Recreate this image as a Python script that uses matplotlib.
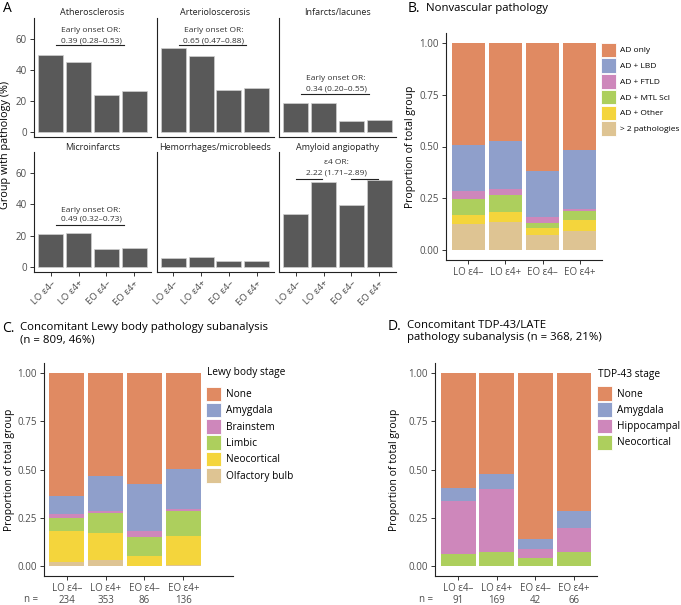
import matplotlib.pyplot as plt
from matplotlib.patches import Patch

plt.rcParams['font.family'] = ['Open Sans', 'DejaVu Sans']

W, H = 681, 605

groups = ['LO ε4–', 'LO ε4+', 'EO ε4–', 'EO ε4+']

# Panel A - % of group with each vascular pathology
vasc_names = ['Atherosclerosis', 'Arterioloscerosis', 'Infarcts/lacunes',
              'Microinfarcts', 'Hemorrhages/microbleeds', 'Amyloid angiopathy']
athero = [49.7, 45.2, 23.9, 26.5]
arterio = [54.0, 49.2, 26.6, 28.2]
infarcts = [18.7, 18.7, 7.1, 7.7]
microinf = [21.2, 21.6, 11.4, 11.8]
hemorr = [5.8, 6.0, 3.6, 3.9]
amyloid = [33.8, 54.4, 39.4, 55.5]
or_head = ['Early onset OR:', 'Early onset OR:', 'Early onset OR:', 'Early onset OR:', None, 'ε4 OR:']
or_text = ['0.39 (0.28–0.53)', '0.65 (0.47–0.88)', '0.34 (0.20–0.55)', '0.49 (0.32–0.73)', None, '2.22 (1.71–2.89)']

# Panel B - nonvascular pathology (legend order, top of stack first)
nonvasc_cats = ['AD only', 'AD + LBD', 'AD + FTLD', 'AD + MTL Scl', 'AD + Other', '> 2 pathologies']
ad_only = [0.495, 0.474, 0.619, 0.515]
ad_lbd = [0.223, 0.231, 0.223, 0.288]
ad_ftld = [0.035, 0.029, 0.029, 0.008]
ad_mtl = [0.081, 0.085, 0.024, 0.044]
ad_other = [0.040, 0.049, 0.034, 0.053]
multi_path = [0.126, 0.132, 0.071, 0.092]

# Panel C - Lewy body stage
lewy_stages = ['None', 'Amygdala', 'Brainstem', 'Limbic', 'Neocortical', 'Olfactory bulb']
lewy_none = [0.639, 0.531, 0.576, 0.497]
lewy_amyg = [0.091, 0.182, 0.242, 0.206]
lewy_brain = [0.021, 0.014, 0.033, 0.013]
lewy_limbic = [0.069, 0.101, 0.097, 0.126]
lewy_neo = [0.159, 0.141, 0.052, 0.149]
lewy_olf = [0.021, 0.031, 0.0, 0.009]
lewy_n = [234, 353, 86, 136]

# Panel D - TDP-43 stage
tdp_stages = ['None', 'Amygdala', 'Hippocampal', 'Neocortical']
tdp_none = [0.596, 0.521, 0.859, 0.715]
tdp_amyg = [0.066, 0.079, 0.050, 0.087]
tdp_hippo = [0.274, 0.328, 0.048, 0.124]
tdp_neo = [0.064, 0.072, 0.043, 0.074]
tdp_n = [91, 169, 42, 66]

palette = ['#E08A62', '#8F9FCB', '#CE87BB', '#ADCF5D', '#F4D53C', '#DEC493']
tick_col = '#4D4D4D'


def rect(x0, y0, x1, y1):
    # pixel box -> figure fraction
    return [x0 / W, 1 - y1 / H, (x1 - x0) / W, (y1 - y0) / H]


def classic(ax):
    ax.spines['top'].set_visible(False)
    ax.spines['right'].set_visible(False)
    for s in ['left', 'bottom']:
        ax.spines[s].set_linewidth(0.8)
        ax.spines[s].set_color('#222222')
    ax.tick_params(length=3, width=0.7, color='#333333', labelcolor=tick_col,
                   labelsize=7, pad=2)


def stacked(ax, layers, colors):
    x = range(1, len(groups) + 1)
    bottom = [0.0] * len(groups)
    for vals, c in zip(layers[::-1], colors[::-1]):
        ax.bar(x, vals, width=0.9, bottom=bottom, color=c, linewidth=0)
        bottom = [b + v for b, v in zip(bottom, vals)]
    ax.set_ylim(-0.05, 1.05)
    ax.set_yticks([0, 0.25, 0.5, 0.75, 1.0])
    ax.set_yticklabels(['0.00', '0.25', '0.50', '0.75', '1.00'])
    ax.set_xticks(list(x))
    classic(ax)
    ax.set_ylabel('Proportion of total group', fontsize=7.5)


def key_legend(handles, labels, x, y, size, hh, hl):
    fig.legend(handles, labels, loc='upper left', bbox_to_anchor=(x / W, 1 - y / H),
               frameon=False, fontsize=size, handlelength=hl, handleheight=hh,
               labelspacing=0.16, handletextpad=0.45, borderaxespad=0, borderpad=0)


fig = plt.figure(figsize=(W / 100, H / 100), dpi=100)

# ---------- Panel A ----------
vasc_vals = [athero, arterio, infarcts, microinf, hemorr, amyloid]
lefts = [34, 156.5, 279]
rows = [(18, 137), (152.5, 272)]
text_y = [(65.2, 58.7, 56), (65.2, 58.7, 56), (34.2, 27.7, 24.5),
          (36.4, 30.7, 26.8), None, (66.8, 60.0, 56.6)]
for i, (name, vals) in enumerate(zip(vasc_names, vasc_vals)):
    r, c = divmod(i, 3)
    ax = fig.add_axes(rect(lefts[c], rows[r][0], lefts[c] + 117, rows[r][1]))
    ax.bar(range(1, 5), vals, width=0.9, color='#595959', edgecolor='#CFCFCF', linewidth=0.5)
    ax.set_xlim(0.4, 4.6)
    ax.set_ylim(-3.5, 73.5)
    classic(ax)
    ax.set_title(name, fontsize=6.5, color='#222222', pad=2)
    ax.set_yticks([0, 20, 40, 60])
    if c > 0:
        ax.tick_params(axis='y', length=0, labelleft=False)
    ax.set_xticks(range(1, 5))
    if r == 0:
        ax.tick_params(axis='x', length=0, labelbottom=False)
    else:
        ax.set_xticklabels(groups, rotation=45, ha='right', va='top',
                           rotation_mode='anchor', fontsize=6.8)
    if or_text[i] is not None:
        y1, y2, yl = text_y[i]
        ax.text(2.45, y1, or_head[i], ha='center', va='center', fontsize=6, color='#333333')
        ax.text(2.45, y2, or_text[i], ha='center', va='center', fontsize=6, color='#333333')
        if i == 5:
            ax.plot([1.0, 1.95], [yl, yl], color='#222222', lw=0.8)
            ax.plot([3.0, 3.95], [yl, yl], color='#222222', lw=0.8)
        else:
            ax.plot([1.2, 3.62], [yl, yl], color='#222222', lw=0.8)

fig.text(6 / W, 1 - 145 / H, 'Group with pathology (%)', rotation=90,
         ha='center', va='center', fontsize=7.8)
fig.text(3 / W, 1 - 8 / H, 'A', fontsize=10, ha='left', va='center')

# ---------- Panel B ----------
axb = fig.add_axes(rect(446, 33, 602, 260))
stacked(axb, [ad_only, ad_lbd, ad_ftld, ad_mtl, ad_other, multi_path], palette)
axb.set_xlim(0.4, 4.6)
axb.set_xticklabels(groups)
axb.yaxis.set_label_coords(-0.19, 0.5)
handles = [Patch(facecolor=col, edgecolor='white', linewidth=0.6) for col in palette]
key_legend(handles, nonvasc_cats, 601, 42.5, 6.0, 2.29, 1.8)
fig.text(408 / W, 1 - 8.5 / H, 'B.', fontsize=10, ha='left', va='center')
fig.text(426 / W, 1 - 9 / H, 'Nonvascular pathology', fontsize=8.2, ha='left', va='center')

# ---------- Panel C ----------
axc = fig.add_axes(rect(43.5, 363, 233, 576))
stacked(axc, [lewy_none, lewy_amyg, lewy_brain, lewy_limbic, lewy_neo, lewy_olf], palette)
axc.set_xlim(0.4, 5.28)
axc.set_xticklabels([f'{g}\n{n}' for g, n in zip(groups, lewy_n)], linespacing=1.15)
axc.yaxis.set_label_coords(-0.15, 0.5)
fig.text(207 / W, 1 - 373 / H, 'Lewy body stage', fontsize=7.3, ha='left', va='center')
key_legend(handles, lewy_stages, 206, 386.5, 7.3, 1.85, 1.5)
fig.text(31.5 / W, 1 - 600 / H, 'n =', fontsize=7, color=tick_col, ha='center', va='center')
fig.text(2 / W, 1 - 329 / H, 'C.', fontsize=10, ha='left', va='center')
fig.text(20 / W, 1 - 322 / H, 'Concomitant Lewy body pathology subanalysis\n(n = 809, 46%)',
         fontsize=8.2, ha='left', va='top', linespacing=1.15)

# ---------- Panel D ----------
axd = fig.add_axes(rect(435, 363, 597, 576))
stacked(axd, [tdp_none, tdp_amyg, tdp_hippo, tdp_neo], palette[:4])
axd.set_xlim(0.4, 4.6)
axd.set_xticklabels([f'{g}\n{n}' for g, n in zip(groups, tdp_n)], linespacing=1.15)
axd.yaxis.set_label_coords(-0.215, 0.5)
fig.text(598 / W, 1 - 375 / H, 'TDP-43 stage', fontsize=7.3, ha='left', va='center')
key_legend(handles[:4], tdp_stages, 597, 386, 7.3, 1.85, 1.5)
fig.text(426.5 / W, 1 - 600 / H, 'n =', fontsize=7, color=tick_col, ha='center', va='center')
fig.text(388 / W, 1 - 326 / H, 'D.', fontsize=10, ha='left', va='center')
fig.text(407 / W, 1 - 320 / H, 'Concomitant TDP-43/LATE\npathology subanalysis (n = 368, 21%)',
         fontsize=8.2, ha='left', va='top', linespacing=1.15)

fig.savefig('out.png', dpi=100)
